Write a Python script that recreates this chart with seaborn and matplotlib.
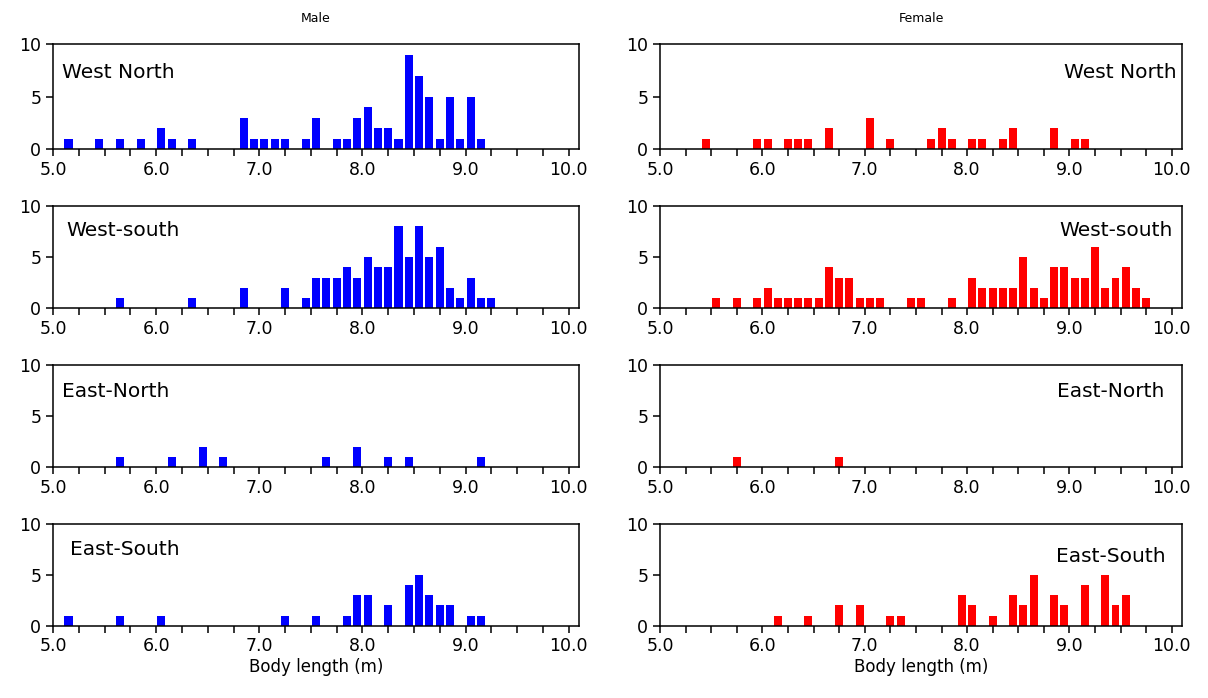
import numpy as np
import matplotlib
matplotlib.use("Agg")
import matplotlib.pyplot as plt
import seaborn as sns
from matplotlib.ticker import MultipleLocator, FuncFormatter

# bin centres (m) and counts, 0.1 m bins
male_wn_len = [5.15, 5.45, 5.65, 5.85, 6.05, 6.15, 6.35, 6.85, 6.95, 7.05, 7.15, 7.25, 7.45, 7.55,
               7.75, 7.85, 7.95, 8.05, 8.15, 8.25, 8.35, 8.45, 8.55, 8.65, 8.75, 8.85, 8.95, 9.05, 9.15]
male_wn_n = [1, 1, 1, 1, 2, 1, 1, 3, 1, 1, 1, 1, 1, 3,
             1, 1, 3, 4, 2, 2, 1, 9, 7, 5, 1, 5, 1, 5, 1]

male_ws_len = [5.65, 6.35, 6.85, 7.25, 7.45, 7.55, 7.65, 7.75, 7.85, 7.95, 8.05, 8.15, 8.25, 8.35,
               8.45, 8.55, 8.65, 8.75, 8.85, 8.95, 9.05, 9.15, 9.25]
male_ws_n = [1, 1, 2, 2, 1, 3, 3, 3, 4, 3, 5, 4, 4, 8,
             5, 8, 5, 6, 2, 1, 3, 1, 1]

male_en_len = [5.65, 6.15, 6.45, 6.65, 7.65, 7.95, 8.25, 8.45, 9.15]
male_en_n = [1, 1, 2, 1, 1, 2, 1, 1, 1]

male_es_len = [5.15, 5.65, 6.05, 7.25, 7.55, 7.85, 7.95, 8.05, 8.25, 8.45, 8.55, 8.65, 8.75, 8.85, 9.05, 9.15]
male_es_n = [1, 1, 1, 1, 1, 1, 3, 3, 2, 4, 5, 3, 2, 2, 1, 1]

female_wn_len = [5.45, 5.95, 6.05, 6.25, 6.35, 6.45, 6.65, 7.05, 7.25, 7.65, 7.75, 7.85, 8.05, 8.15,
                 8.35, 8.45, 8.85, 9.05, 9.15]
female_wn_n = [1, 1, 1, 1, 1, 1, 2, 3, 1, 1, 2, 1, 1, 1,
               1, 2, 2, 1, 1]

female_ws_len = [5.55, 5.75, 5.95, 6.05, 6.15, 6.25, 6.35, 6.45, 6.55, 6.65, 6.75, 6.85, 6.95, 7.05,
                 7.15, 7.45, 7.55, 7.85, 8.05, 8.15, 8.25, 8.35, 8.45, 8.55, 8.65, 8.75, 8.85, 8.95,
                 9.05, 9.15, 9.25, 9.35, 9.45, 9.55, 9.65, 9.75]
female_ws_n = [1, 1, 1, 2, 1, 1, 1, 1, 1, 4, 3, 3, 1, 1,
               1, 1, 1, 1, 3, 2, 2, 2, 2, 5, 2, 1, 4, 4,
               3, 3, 6, 2, 3, 4, 2, 1]

female_en_len = [5.75, 6.75]
female_en_n = [1, 1]

female_es_len = [6.15, 6.45, 6.75, 6.95, 7.25, 7.35, 7.95, 8.05, 8.25, 8.45, 8.55, 8.65, 8.85, 8.95,
                 9.15, 9.35, 9.45, 9.55]
female_es_n = [1, 1, 2, 2, 1, 1, 3, 2, 1, 3, 2, 5, 3, 2,
               4, 5, 2, 3]

regions = ["West North", "West-south", "East-North", "East-South"]
male_data = [(male_wn_len, male_wn_n), (male_ws_len, male_ws_n),
             (male_en_len, male_en_n), (male_es_len, male_es_n)]
female_data = [(female_wn_len, female_wn_n), (female_ws_len, female_ws_n),
               (female_en_len, female_en_n), (female_es_len, female_es_n)]

male_color = '#0000FF'
female_color = '#FF0000'

sns.set_style("ticks")
plt.rcParams['font.family'] = ['DejaVu Sans']
plt.rcParams['text.color'] = 'black'
plt.rcParams['axes.labelcolor'] = 'black'
plt.rcParams['xtick.color'] = 'black'
plt.rcParams['ytick.color'] = 'black'

fig = plt.figure(figsize=(12.08, 6.98), dpi=100)

# axes rows (bottom, height) in figure fraction
rows = [(0.7861, 0.1504), (0.5583, 0.1470), (0.3305, 0.1466), (0.1036, 0.1457)]
cols = [(0.0439, 0.4354), (0.5464, 0.4321)]

# label placement per panel: (x, y)
male_lab = [(0.017, 0.736), (0.025, 0.763), (0.017, 0.736), (0.033, 0.754)]
female_lab = [(0.990, 0.736), (0.983, 0.763), (0.967, 0.736), (0.969, 0.676)]


def int_label(v, pos):
    if abs(v - round(v)) < 1e-6:
        return f"{v:.1f}"
    return ""


for c, (data, color, labs) in enumerate([(male_data, male_color, male_lab),
                                          (female_data, female_color, female_lab)]):
    for r in range(4):
        ax = fig.add_axes([cols[c][0], rows[r][0], cols[c][1], rows[r][1]])
        lengths, counts = data[r]
        sns.histplot(x=lengths, weights=counts, binwidth=0.1, binrange=(5.0, 10.0),
                     shrink=0.78, color=color, alpha=1, linewidth=0, ax=ax)
        ax.set_xlim(5.0, 10.1)
        ax.set_ylim(0, 10)
        ax.set_yticks([0, 5, 10])
        ax.xaxis.set_major_locator(MultipleLocator(0.25))
        ax.xaxis.set_major_formatter(FuncFormatter(int_label))
        ax.tick_params(axis='both', labelsize=12.5, length=5, width=1.1,
                       color='black', labelcolor='black')
        for sp in ax.spines.values():
            sp.set_visible(True)
            sp.set_linewidth(1.1)
            sp.set_color('black')
        ax.set_ylabel("")
        if r == 3:
            ax.set_xlabel("Body length (m)", fontsize=12, labelpad=2, color='black')
        else:
            ax.set_xlabel("")
        lx, ly = labs[r]
        ax.text(lx, ly, regions[r], transform=ax.transAxes, fontsize=14.5, color='black',
                ha='left' if c == 0 else 'right', va='center')

fig.text(0.2616, 0.974, "Male", ha='center', va='center', fontsize=9, color='black')
fig.text(0.7625, 0.974, "Female", ha='center', va='center', fontsize=9, color='black')

plt.savefig("out.png", dpi=100)
